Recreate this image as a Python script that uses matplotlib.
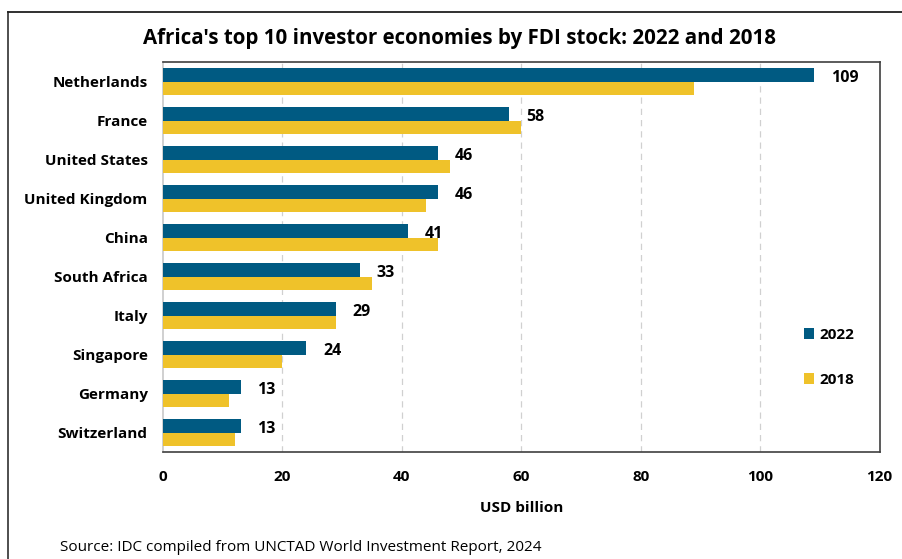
import matplotlib.pyplot as plt
import numpy as np
from matplotlib.lines import Line2D

plt.rcParams['font.family'] = ['Open Sans', 'DejaVu Sans']

countries = ['Netherlands', 'France', 'United States', 'United Kingdom', 'China',
             'South Africa', 'Italy', 'Singapore', 'Germany', 'Switzerland']
fdi_2022 = [109, 58, 46, 46, 41, 33, 29, 24, 13, 13]
fdi_2018 = [89, 60, 48, 44, 46, 35, 29, 20, 11, 12]

c2022 = '#005A82'
c2018 = '#EFC22A'

fig = plt.figure(figsize=(9.02, 5.59), dpi=100)
ax = fig.add_axes([0.1807, 0.1914, 0.7945, 0.6976])

y = np.arange(len(countries))
h = 0.34
ax.barh(y - h / 2, fdi_2022, height=h, color=c2022, label='2022', zorder=3)
ax.barh(y + h / 2, fdi_2018, height=h, color=c2018, label='2018', zorder=3)

# value labels for 2022 only
for yi, v in zip(y, fdi_2022):
    ax.text(v + 2.8, yi - h / 2 + 0.08, str(v), va='center', ha='left',
            fontsize=11.5, fontweight='bold', zorder=4)

ax.set_xlim(0, 120)
ax.set_ylim(len(countries) - 0.5, -0.5)
ax.set_xticks(range(0, 121, 20))
ax.set_yticks(y)
ax.set_yticklabels(countries)
ax.tick_params(axis='both', length=0, labelsize=11)
ax.tick_params(axis='x', pad=13)
ax.tick_params(axis='y', pad=11)
for lbl in ax.get_xticklabels() + ax.get_yticklabels():
    lbl.set_fontweight('bold')

ax.set_xlabel('USD billion', fontsize=11, fontweight='bold', labelpad=12)

for x in range(20, 120, 20):
    ax.axvline(x, color='#D0D0D0', linestyle=(0, (5, 4)), linewidth=0.9, zorder=1)

for side in ['top', 'right', 'bottom']:
    ax.spines[side].set_color('#404040')
    ax.spines[side].set_linewidth(1.2)
ax.spines['left'].set_color('#C8C8C8')
ax.spines['left'].set_linewidth(1.2)

leg = ax.legend(loc='center left', bbox_to_anchor=(0.875, 0.243), frameon=False,
                handlelength=0.7, handleheight=0.7, handletextpad=0.3,
                labelspacing=2.0, prop={'weight': 'bold', 'size': 11})

fig.text(0.509, 0.932, "Africa's top 10 investor economies by FDI stock: 2022 and 2018",
         ha='center', va='center', fontsize=14.8, fontweight='bold')
fig.text(0.067, 0.021, 'Source: IDC compiled from UNCTAD World Investment Report, 2024',
         ha='left', va='center', fontsize=11)

# outer frame lines
fig.add_artist(Line2D([0.0085, 0.0085], [0.0, 0.979], color='#404040', linewidth=1.3))
fig.add_artist(Line2D([0.0085, 1.0], [0.979, 0.979], color='#202020', linewidth=1.3))

fig.savefig('out.png', dpi=100)
